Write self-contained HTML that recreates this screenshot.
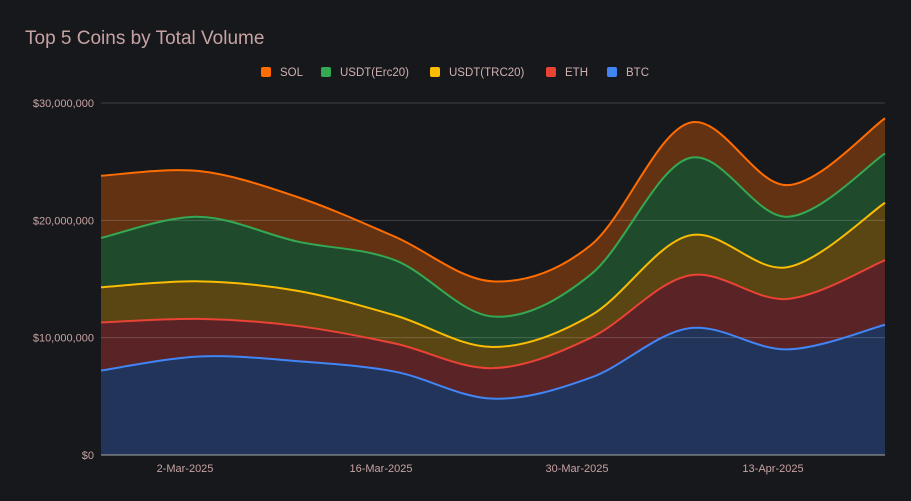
<!DOCTYPE html>
<html><head><meta charset="utf-8"><style>
html,body{margin:0;padding:0;background:#17181c;}
svg{display:block;font-family:"Liberation Sans",sans-serif;}
</style></head><body>
<svg id="chart" width="911" height="501">
<rect width="911" height="501" fill="#17181c"/>
<text x="25" y="44" font-size="19" fill="#c7a3a3">Top 5 Coins by Total Volume</text>
<g id="areas"></g><g id="grid"></g><g id="lines"></g><g id="axes"></g><g id="legend"></g>
</svg>
<script>
const dates=["24-Feb","3-Mar","10-Mar","17-Mar","24-Mar","31-Mar","7-Apr","14-Apr","21-Apr"];
const btc=[7.2,8.4,8.0,7.1,4.8,6.6,10.8,9.0,11.1];
const eth=[4.1,3.2,3.0,2.4,2.6,3.4,4.5,4.3,5.5];
const usdtTrc=[3.0,3.2,3.0,2.4,1.8,1.9,3.4,2.7,4.9];
const usdtErc=[4.2,5.5,4.2,4.7,2.6,3.5,6.6,4.3,4.2];
const sol=[5.3,3.9,3.8,2.0,3.0,2.5,3.0,2.7,3.0];
const yTicks=[0,10,20,30];
const yTickLabels=["$0","$10,000,000","$20,000,000","$30,000,000"];
const xTickDays=[6,20,34,48];
const xTickLabels=["2-Mar-2025","16-Mar-2025","30-Mar-2025","13-Apr-2025"];
const seriesNames=["BTC","ETH","USDT(TRC20)","USDT(Erc20)","SOL"];
const seriesData=[btc,eth,usdtTrc,usdtErc,sol];
const lineColors=["#4285f4","#ea4335","#fbbc04","#34a853","#ff6d01"];
const fillColors=["#22345a","#5a2426","#5a4612","#1f4a2c","#633213"];
const NS="http://www.w3.org/2000/svg";
const X0=101,X1=885,Y0=455,Y1=103;
const totalDays=(dates.length-1)*7;
function xDay(d){return X0+(X1-X0)*d/totalDays;}
function xIdx(i){return xDay(i*7);}
function y(v){return Y0-(Y0-Y1)*v/30;}
function mk(tag,attrs,parent){const e=document.createElementNS(NS,tag);for(const k in attrs)e.setAttribute(k,attrs[k]);parent.appendChild(e);return e;}
function spline(pts){let d="M"+pts[0][0]+","+pts[0][1];const t=0.5;
for(let i=0;i<pts.length-1;i++){const p0=pts[i-1]||pts[i],p1=pts[i],p2=pts[i+1],p3=pts[i+2]||p2;
const c1=[p1[0]+(p2[0]-p0[0])*t/3,p1[1]+(p2[1]-p0[1])*t/3];
const c2=[p2[0]-(p3[0]-p1[0])*t/3,p2[1]-(p3[1]-p1[1])*t/3];
d+=" C"+c1[0]+","+c1[1]+" "+c2[0]+","+c2[1]+" "+p2[0]+","+p2[1];}return d;}
function splineRev(pts){const r=pts.slice().reverse();return spline(r).replace(/^M/,"L");}
const grid=document.getElementById("grid"),axes=document.getElementById("axes");
yTicks.forEach((v,i)=>{
const gl=mk("line",{x1:X0,x2:X1,y1:y(v),y2:y(v),stroke:v===0?"#aaaaaa":"#ffffff","stroke-opacity":v===0?1:0.18,"stroke-width":1},grid);


const t=mk("text",{x:94,y:y(v)+4,"text-anchor":"end","font-size":11,fill:"#c7a3a3"},axes);
t.textContent=yTickLabels[i];

});
xTickDays.forEach((d,i)=>{const t=mk("text",{x:xDay(d),y:472,"text-anchor":"middle","font-size":11,fill:"#c7a3a3"},axes);
t.textContent=xTickLabels[i];

});
const areas=document.getElementById("areas"),lines=document.getElementById("lines");
let base=dates.map(()=>0);
seriesData.forEach((s,k)=>{const top=s.map((v,i)=>base[i]+v);
const tp=top.map((v,i)=>[xIdx(i),y(v)]),bp=base.map((v,i)=>[xIdx(i),y(v)]);
const a=mk("path",{d:spline(tp)+" "+splineRev(bp)+" Z",fill:fillColors[k]},areas);


const l=mk("path",{d:spline(tp),fill:"none",stroke:lineColors[k],"stroke-width":2},lines);


base=top;});
const legend=document.getElementById("legend");
const legOrder=[4,3,2,1,0],legX=[261,321,430,546,607];
legOrder.forEach((k,j)=>{const g=mk("g",{},legend);


mk("rect",{x:legX[j],y:67,width:10,height:10,rx:2,fill:lineColors[k]},g);
const t=mk("text",{x:legX[j]+19,y:76,"font-size":11.5,fill:"#d0b0b0"},g);t.textContent=seriesNames[k];});
</script>
</body></html>
